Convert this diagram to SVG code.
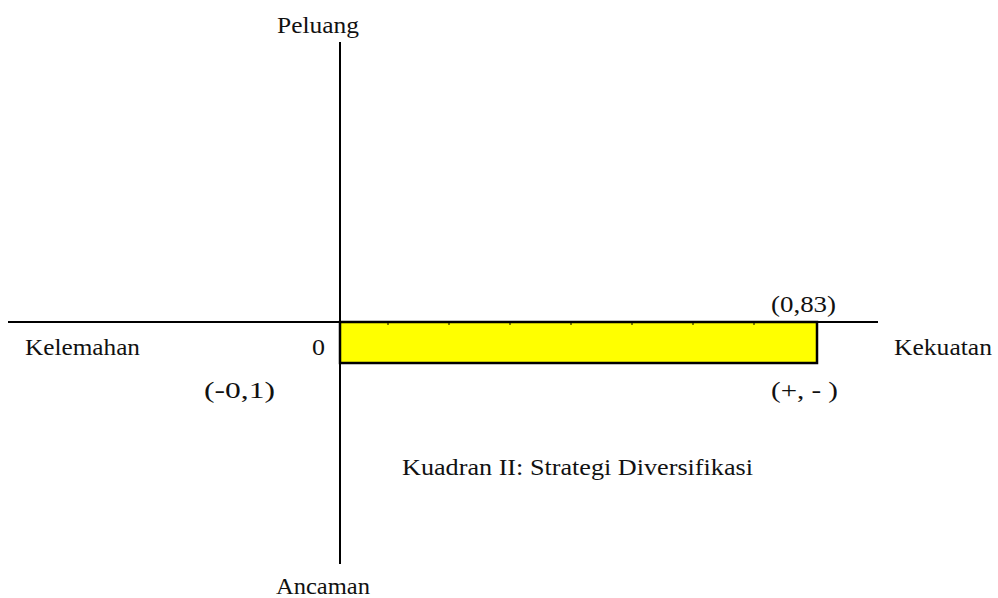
<svg xmlns="http://www.w3.org/2000/svg" width="998" height="598" viewBox="0 0 998 598">
<style>
text{font-family:"Liberation Serif",serif;font-size:23px;fill:#111}
.ax{stroke:#000;stroke-width:2;fill:none}
.tk{stroke:#000;stroke-width:1}
</style>
<rect width="998" height="598" fill="#fff"/>
<g id="area">
<rect x="340" y="322" width="477" height="41" fill="#ffff00" stroke="#000" stroke-width="2.5"/>
<g class="tk">
<line x1="388" y1="322" x2="388" y2="325"/>
<line x1="449" y1="322" x2="449" y2="325"/>
<line x1="510" y1="322" x2="510" y2="325"/>
<line x1="571" y1="322" x2="571" y2="325"/>
<line x1="632" y1="322" x2="632" y2="325"/>
<line x1="693" y1="322" x2="693" y2="325"/>
<line x1="754" y1="322" x2="754" y2="325"/>
</g>
</g>
<g id="axes">
<line class="ax" x1="340" y1="42" x2="340" y2="564"/>
<line class="ax" x1="8" y1="322" x2="878" y2="322"/>
</g>
<g id="labels">
<text x="277" y="33" textLength="82" lengthAdjust="spacingAndGlyphs">Peluang</text>
<text x="276" y="594" textLength="94" lengthAdjust="spacingAndGlyphs">Ancaman</text>
<text x="25" y="355" textLength="115" lengthAdjust="spacingAndGlyphs">Kelemahan</text>
<text x="894" y="355" textLength="98" lengthAdjust="spacingAndGlyphs">Kekuatan</text>
<text x="312" y="355" textLength="13" lengthAdjust="spacingAndGlyphs">0</text>
<text x="771" y="312" textLength="65" lengthAdjust="spacingAndGlyphs">(0,83)</text>
<text x="204" y="398" textLength="71" lengthAdjust="spacingAndGlyphs">(-0,1)</text>
<text x="771" y="398" textLength="67" lengthAdjust="spacingAndGlyphs">(+, - )</text>
<text x="402" y="475" textLength="351" lengthAdjust="spacingAndGlyphs">Kuadran II: Strategi Diversifikasi</text>
</g>
</svg>
